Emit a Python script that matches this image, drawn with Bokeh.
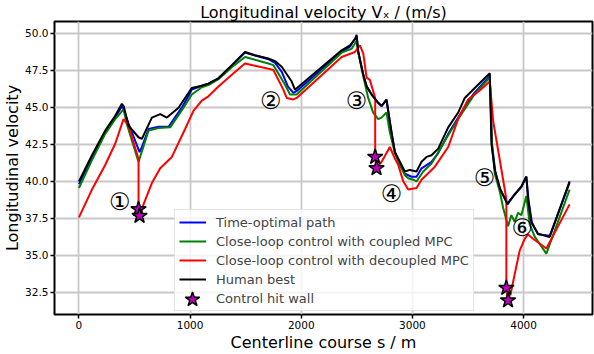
from bokeh.plotting import figure
from bokeh.models import Legend, LegendItem, Range1d, Label, PrintfTickFormatter, FixedTicker
from bokeh.embed import file_html
from bokeh.resources import INLINE

# ---------------- data ----------------
s_opt = [0, 117, 236, 326, 390, 446, 545, 566, 626, 716, 806, 925, 1000, 1015, 1105, 1165,
         1255, 1375, 1494, 1584, 1704, 1764, 1824, 1880, 1929, 1960, 2363, 2438, 2498, 2513,
         2558, 2588, 2633, 2692, 2722, 2767, 2782, 2812, 2842, 2887, 2932, 2992, 3037, 3082,
         3172, 3232, 3322, 3412, 3501, 3561, 3696, 3716, 3746, 3790, 3855, 3920, 3980, 4025,
         4045, 4075, 4130, 4235, 4414]
v_opt = [39.8, 41.6, 43.3, 44.3, 45.1, 43.9, 41.97, 42.3, 43.53, 43.68, 43.68, 44.97, 45.97,
         46.2, 46.45, 46.6, 46.96, 47.8, 48.7, 48.5, 48.25, 48.0, 47.4, 46.4, 45.97, 46.1,
         48.75, 49.1, 49.8, 48.74, 47.19, 46.41, 45.86, 45.3, 45.08, 45.52, 44.75, 43.3,
         41.97, 41.1, 40.5, 40.3, 40.3, 40.87, 41.3, 41.9, 43.2, 44.3, 45.4, 46.0, 47.1,
         42.5, 40.6, 39.4, 38.5, 39.1, 39.6, 40.3, 38.7, 37.2, 36.4, 36.3, 39.9]

s_cpl = [0, 117, 236, 326, 401, 431, 536, 626, 716, 821, 941, 1015, 1105, 1165, 1255, 1375,
         1494, 1704, 1749, 1854, 1899, 1959, 2363, 2453, 2498, 2513, 2558, 2602, 2647, 2692,
         2722, 2767, 2797, 2842, 2932, 2962, 3007, 3037, 3097, 3172, 3322, 3412, 3561, 3696,
         3716, 3741, 3786, 3816, 3860, 3890, 3920, 3950, 3980, 4025, 4055, 4100, 4205, 4414]
v_cpl = [39.54, 41.42, 43.2, 44.2, 44.86, 43.86, 41.3, 43.42, 43.6, 43.64, 44.97, 45.86,
         46.35, 46.5, 46.9, 47.7, 48.4, 47.96, 47.85, 46.52, 45.86, 45.86, 48.69, 48.96,
         49.5, 48.7, 47.1, 45.63, 44.64, 44.2, 44.3, 44.64, 43.3, 41.9, 40.4, 40.2, 40.1,
         39.98, 40.65, 41.2, 43.1, 44.2, 45.9, 47.0, 42.4, 40.5, 39.3, 38.2, 36.95, 37.7,
         37.25, 37.85, 37.7, 39.0, 37.1, 36.25, 35.1, 39.43]

s_dec = [0, 117, 236, 326, 401, 446, 536, 536, 545, 581, 656, 731, 836, 955, 1030, 1105,
         1165, 1255, 1375, 1494, 1704, 1749, 1839, 1869, 1929, 1959, 2363, 2483, 2528, 2558,
         2588, 2617, 2665, 2665, 2677, 2722, 2797, 2842, 2872, 2917, 2962, 3037, 3082, 3202,
         3322, 3411, 3501, 3600, 3696, 3726, 3771, 3831, 3845, 3845, 3860, 3890, 3920, 3965,
         4010, 4040, 4085, 4205, 4414]
v_dec = [37.55, 39.43, 41.09, 42.53, 44.2, 43.75, 41.5, 38.1, 37.65, 38.43, 39.87, 40.87,
         41.64, 43.53, 44.75, 45.45, 45.74, 46.4, 47.2, 47.96, 47.6, 47.52, 46.19, 45.63,
         45.53, 45.63, 48.4, 48.74, 49.18, 48.63, 47.0, 46.85, 45.63, 41.64, 40.87, 41.3,
         42.31, 41.53, 41.1, 40.0, 39.43, 39.54, 40.1, 40.98, 42.31, 44.2, 45.52, 46.1,
         46.74, 44.08, 42.09, 39.43, 38.76, 32.78, 31.93, 32.6, 33.7, 35.3, 36.1, 36.4,
         36.1, 35.44, 38.43]

s_hum = [0, 117, 236, 326, 386, 402, 446, 536, 566, 656, 731, 791, 896, 1015, 1105, 1165,
         1255, 1375, 1494, 1584, 1704, 1764, 1824, 1914, 1943, 2363, 2438, 2483, 2498, 2513,
         2558, 2588, 2633, 2692, 2722, 2767, 2782, 2812, 2842, 2887, 2932, 2977, 3037, 3082,
         3127, 3172, 3232, 3322, 3412, 3471, 3561, 3696, 3711, 3741, 3786, 3855, 3920, 3980,
         4025, 4040, 4070, 4130, 4235, 4414]
v_hum = [39.98, 41.75, 43.42, 44.42, 45.23, 45.08, 43.75, 42.97, 42.86, 44.3, 44.53, 44.3,
         44.97, 46.3, 46.45, 46.6, 46.96, 47.85, 48.74, 48.52, 48.3, 48.12, 47.74, 46.74,
         46.19, 48.85, 49.18, 49.6, 49.89, 48.74, 47.19, 46.41, 45.86, 45.3, 45.08, 45.52,
         44.75, 43.3, 41.97, 41.31, 40.65, 40.76, 40.65, 41.31, 41.64, 41.75, 42.2, 43.64,
         44.64, 45.63, 46.3, 47.3, 42.53, 40.76, 39.54, 38.43, 39.1, 39.65, 40.31, 38.76,
         37.21, 36.44, 36.22, 39.98]

s_hit = [536, 545, 2665, 2677, 3845, 3860]
v_hit = [38.1, 37.65, 41.64, 40.87, 32.78, 31.93]

marks = ["①", "②", "③", "④", "⑤", "⑥"]
mark_s = [368, 1725, 2498, 2812, 3648, 3989]
mark_v = [38.56, 45.41, 45.41, 39.1, 40.23, 36.84]

x_ticks = [0, 1000, 2000, 3000, 4000]
y_ticks = [32.5, 35.0, 37.5, 40.0, 42.5, 45.0, 47.5, 50.0]

names = ["Time-optimal path", "Close-loop control with coupled MPC",
         "Close-loop control with decoupled MPC", "Human best", "Control hit wall"]

FONT = "DejaVu Sans"

p = figure(width=594, height=354, output_backend="svg", toolbar_location=None,
           x_range=Range1d(-220, 4620), y_range=Range1d(30.98, 50.8),
           min_border_left=52, min_border_right=2, min_border_top=19, min_border_bottom=37)

p.title.text = "Longitudinal velocity Vₓ / (m/s)"
p.title.align = "center"
p.title.text_font = FONT
p.title.text_font_size = "16px"
p.title.text_font_style = "normal"
p.title.text_color = "black"
p.title.standoff = 0

p.xaxis.axis_label = "Centerline course s / m"
p.yaxis.axis_label = "Longitudinal velocity"
for ax in (p.xaxis, p.yaxis):
    ax.axis_label_text_font = FONT
    ax.axis_label_text_font_size = "16px"
    ax.axis_label_text_font_style = "normal"
    ax.axis_label_text_color = "black"
    ax.major_label_text_font = FONT
    ax.major_label_text_font_size = "10.5px"
    ax.major_label_text_color = "black"
    ax.major_tick_in = 0
    ax.major_tick_out = 4
    ax.major_tick_line_width = 1.5
    ax.major_tick_line_color = "black"
    ax.minor_tick_line_color = None
    ax.axis_line_color = None
p.xaxis.axis_label_standoff = 1
p.xaxis.major_label_standoff = 2
p.yaxis.axis_label_standoff = 0
p.yaxis.major_label_standoff = 2
p.xaxis.ticker = FixedTicker(ticks=x_ticks)
p.yaxis.ticker = FixedTicker(ticks=y_ticks)
p.yaxis.formatter = PrintfTickFormatter(format="%.1f")

p.grid.grid_line_color = "#c8c8c8"
p.grid.grid_line_width = 1.8
p.outline_line_color = "black"
p.outline_line_width = 2

r1 = p.line(s_opt, v_opt, line_color="#0000ff", line_width=2)
r2 = p.line(s_cpl, v_cpl, line_color="#008000", line_width=2)
r3 = p.line(s_dec, v_dec, line_color="#ff0000", line_width=2)
r4 = p.line(s_hum, v_hum, line_color="black", line_width=2)
r5 = p.scatter(s_hit, v_hit, marker="star", size=16, fill_color="#bf00bf",
               line_color="black", line_width=1.5)

for t, xs, ys in zip(marks, mark_s, mark_v):
    p.add_layout(Label(x=xs, y=ys, text=t, text_align="center", text_baseline="middle",
                       text_font=FONT, text_font_size="24px", text_color="black"))

LX, LY = 120, 3
legend = Legend(items=[LegendItem(label=n, renderers=[r]) for n, r in
                       zip(names, [r1, r2, r3, r4, r5])],
                location=(LX, LY))
legend.label_text_font = FONT
legend.label_text_font_size = "13px"
legend.label_height = 16
legend.glyph_height = 16
legend.glyph_width = 27
legend.spacing = 3
legend.padding = 4
legend.margin = 0
legend.label_standoff = 10
legend.border_line_color = "#cccccc"
legend.border_line_width = 1
legend.background_fill_alpha = 0.8
p.add_layout(legend)

# larger star symbol drawn over the legend's small one
legend2 = Legend(items=[LegendItem(label=" ", renderers=[r5])],
                 location=(LX + 4 + 13.5 - 19, LY + 4 + 8 - 19))
legend2.glyph_height = 38
legend2.glyph_width = 38
legend2.label_height = 38
legend2.label_standoff = 0
legend2.padding = 0
legend2.margin = 0
legend2.border_line_color = None
legend2.background_fill_color = None
legend2.background_fill_alpha = 0
legend2.label_text_font_size = "1px"
p.add_layout(legend2)

open("out.html", "w").write(file_html(p, INLINE))
